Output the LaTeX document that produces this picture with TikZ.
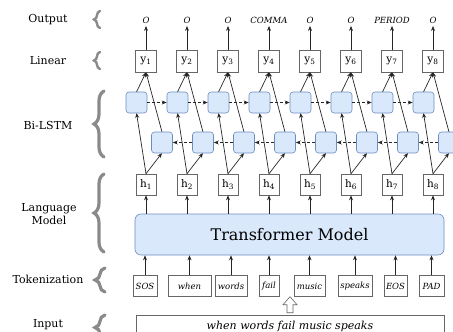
\documentclass[tikz,border=0pt]{standalone}
\usepackage{fontspec}
\setmainfont{DejaVu Serif}
\usetikzlibrary{arrows.meta,decorations.pathreplacing,calc}
\definecolor{lstmfill}{HTML}{DAE8FC}
\definecolor{lstmdraw}{HTML}{6C8EBF}
\definecolor{boxgray}{HTML}{666666}
\definecolor{bracegray}{HTML}{8A8A8A}
\begin{document}
\begin{tikzpicture}[x=1pt,y=-1pt,
  lstm/.style={draw=lstmdraw, fill=lstmfill, rounded corners=3pt, minimum width=21pt, minimum height=21pt, inner sep=0pt, line width=0.6pt},
  vbox/.style={draw=boxgray, fill=white, minimum width=20pt, minimum height=21pt, inner sep=0pt, line width=0.6pt, font=\fontsize{10.5}{12}\selectfont},
  tok/.style={draw=boxgray, fill=white, minimum height=21pt, inner sep=0pt, line width=0.6pt, font=\fontsize{8.5}{10}\selectfont\itshape},
  outlab/.style={font=\fontsize{8.5}{10}\selectfont\itshape, inner sep=2.5pt},
  lab/.style={font=\fontsize{11}{12.5}\selectfont, align=center},
  arr/.style={-{Stealth[length=5pt,width=4pt]}, line width=0.7pt, draw=black!85},
  dasharr/.style={arr, dash pattern=on 3pt off 2pt},
  bigbrace/.style={draw=bracegray, line width=3.2pt, line cap=round, decorate, decoration={brace, amplitude=10pt}},
  smallbrace/.style={draw=bracegray, line width=2.4pt, line cap=round, decorate, decoration={brace, amplitude=6pt}},
]
\useasboundingbox (0,0) rectangle (453,332);

% left labels
\node[lab] (lout) at (48,20) {Output};
\node[lab] (llin) at (48,61) {Linear};
\node[lab] (lbi) at (48,125) {Bi-LSTM};
\node[lab] (llm) at (49,214) {Language\\Model};
\node[lab] (ltok) at (48,279) {Tokenization};
\node[lab] (lin) at (48,325) {Input};

% braces
\draw[smallbrace] (100,28) -- (100,11);
\draw[smallbrace] (100,69) -- (100,52);
\draw[bigbrace] (104,157) -- (104,91);
\draw[bigbrace] (104,252) -- (104,174);
\draw[bigbrace] (105,292) -- (105,268);
\draw[bigbrace] (105,340) -- (105,315);

% transformer
\node[draw=lstmdraw, fill=lstmfill, rounded corners=6pt, minimum width=309pt, minimum height=41pt, inner sep=0pt, line width=0.6pt, font=\fontsize{16}{19}\selectfont] (tm) at (289.5,234.5) {Transformer Model};

% tokens
\node[tok, minimum width=24pt] (t1) at (145,286) {SOS};
\node[tok, minimum width=43pt] (t2) at (189.5,286) {when};
\node[tok, minimum width=32pt] (t3) at (231,286) {words};
\node[tok, minimum width=20pt] (t4) at (269,286) {fail};
\node[tok, minimum width=31pt] (t5) at (309.5,286) {music};
\node[tok, minimum width=34pt] (t6) at (355,286) {speaks};
\node[tok, minimum width=23pt] (t7) at (395.5,286) {EOS};
\node[tok, minimum width=25pt] (t8) at (431.5,286) {PAD};
\foreach \i in {1,...,8} {
  \draw[arr] (t\i.north) -- (t\i.north |- tm.south);
}

% input
\node[draw=boxgray, fill=white, minimum width=308pt, minimum height=22pt, inner sep=0pt, line width=0.6pt, font=\fontsize{11}{13}\selectfont\itshape] (inp) at (290,326) {when words fail music speaks};
\draw[boxgray, fill=white, line width=0.6pt] ($(inp.north)+(0,-2)$) -- ++(3,0) -- ++(0,-8) -- ++(4,0) -- ++(-7,-8) -- ++(-7,8) -- ++(4,0) -- ++(0,8) -- cycle;

% columns
\foreach \i/\lab in {1/O,2/O,3/O,4/COMMA,5/O,6/O,7/PERIOD,8/O} {
  \pgfmathsetmacro{\cx}{146+41*(\i-1)}
  \node[vbox] (h\i) at (\cx,184.5) {h\textsubscript{\i}};
  \node[vbox, minimum width=21pt, minimum height=22pt] (y\i) at (\cx,61) {y\textsubscript{\i}};
  \node[outlab] (o\i) at (\cx,20) {\lab};
  \draw[arr] (y\i.north) -- (o\i.south);
  \draw[arr] (h\i |- tm.north) -- (h\i.south);
}
% lstm cells
\foreach \i in {1,...,8} {
  \pgfmathsetmacro{\cx}{146+41*(\i-1)}
  \coordinate (cu\i) at ({\cx-9.5},102.5);
  \coordinate (cl\i) at ({\cx+16},142.5);
}
% connectors behind cells
\foreach \i in {1,...,8} {
  \draw[arr] (h\i.north) -- (cu\i |- 0,113);
  \draw[arr] (h\i.north) -- (cl\i |- 0,153);
  \draw[arr] (cu\i |- 0,92) -- (y\i.south);
  \draw[arr] (cl\i |- 0,132) -- (y\i.south);
}
\foreach \i in {1,...,8} {
  \node[lstm] (u\i) at (cu\i) {};
  \node[lstm] (l\i) at (cl\i) {};
}
\foreach \i [evaluate=\i as \j using int(\i+1)] in {1,...,7} {
  \draw[dasharr] (u\i.east) -- (u\j.west);
  \draw[dasharr] (l\j.west) -- (l\i.east);
}
\end{tikzpicture}
\end{document}
